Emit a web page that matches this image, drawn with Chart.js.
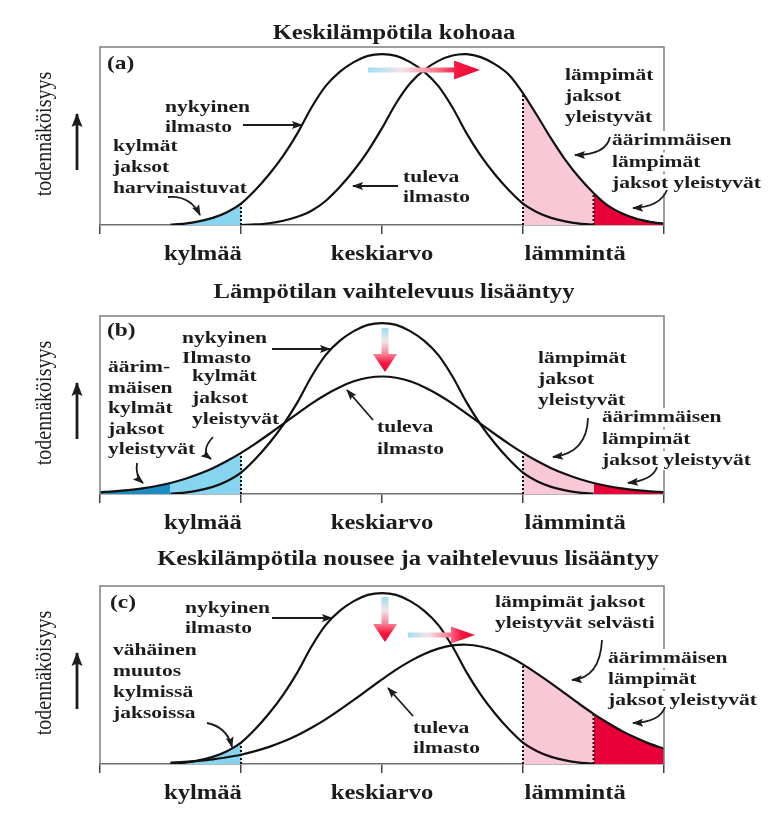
<!DOCTYPE html>
<html lang="fi">
<head>
    <meta charset="UTF-8">
    <title>Ilmaston muutos ja lämpötilan jakauma</title>
    <script src="https://cdn.jsdelivr.net/npm/chart.js"></script>
    <style>
        body {
            margin: 0;
            background: #fff;
        }
        #page {
            position: relative;
            width: 774px;
            height: 831px;
            overflow: hidden;
        }
        .panel {
            position: absolute;
            left: 0;
        }
    </style>
</head>
<body>
<div id="page">
    <div class="panel" style="top:0px"><canvas id="chartA" width="774" height="270"></canvas></div>
    <div class="panel" style="top:269px"><canvas id="chartB" width="774" height="270"></canvas></div>
    <div class="panel" style="top:539px"><canvas id="chartC" width="774" height="270"></canvas></div>
</div>

<script>
// temperature axis, -2 .. 2 (kylmää = -1, keskiarvo = 0, lämmintä = 1)
const xGrid = [-2, -1.9, -1.8, -1.7, -1.6, -1.5, -1.4, -1.3, -1.2, -1.1, -1,
    -0.9, -0.8, -0.7, -0.6, -0.5, -0.4, -0.3, -0.2, -0.1, 0,
    0.1, 0.2, 0.3, 0.4, 0.5, 0.6, 0.7, 0.8, 0.9, 1,
    1.1, 1.2, 1.3, 1.4, 1.5, 1.6, 1.7, 1.8, 1.9, 2];

// probability (1 = top of the frame)
const currentClimate = [null, null, null, null, null, 0.002, 0.008, 0.020, 0.040, 0.072, 0.120,
    0.195, 0.285, 0.390, 0.515, 0.660, 0.780, 0.860, 0.915, 0.950, 0.960,
    0.950, 0.915, 0.860, 0.780, 0.660, 0.515, 0.390, 0.285, 0.195, 0.120,
    0.072, 0.040, 0.020, 0.008, 0.002, null, null, null, null, null];

// (a) mean rises
const futureWarmer = [null, null, null, null, null, null, null, null, null, null, 0.000,
    0.003, 0.010, 0.024, 0.046, 0.080, 0.135, 0.213, 0.306, 0.415, 0.544,
    0.684, 0.796, 0.871, 0.922, 0.952, 0.960, 0.943, 0.904, 0.844, 0.740,
    0.615, 0.485, 0.366, 0.265, 0.180, 0.110, 0.066, 0.036, 0.018, 0.007];

// (b) variability grows
const futureWider = [0.010, 0.015, 0.022, 0.032, 0.045, 0.062, 0.084, 0.112, 0.145, 0.185, 0.231,
    0.282, 0.337, 0.394, 0.452, 0.508, 0.558, 0.600, 0.633, 0.653, 0.660,
    0.653, 0.633, 0.600, 0.558, 0.508, 0.452, 0.394, 0.337, 0.282, 0.231,
    0.185, 0.145, 0.112, 0.084, 0.062, 0.045, 0.032, 0.022, 0.015, 0.010];

// (c) both
const futureWarmerWider = [null, null, null, null, null, 0.008, 0.012, 0.018, 0.026, 0.038, 0.052,
    0.072, 0.096, 0.126, 0.162, 0.204, 0.251, 0.304, 0.360, 0.418, 0.475,
    0.530, 0.578, 0.618, 0.648, 0.666, 0.670, 0.660, 0.638, 0.604, 0.560,
    0.508, 0.453, 0.395, 0.337, 0.282, 0.232, 0.186, 0.147, 0.113, 0.086];

const coldBand = [-1.4, -1];
const extremeColdBand = [-2, -1.5];
const coldBandWide = [-1.5, -1];
const warmBand = [1, 1.5];
const extremeWarmBand = [1.5, 2];

const tickLabels = ['kylmää', 'keskiarvo', 'lämmintä'];
const axisTitle = 'todennäköisyys';
const panelTitles = [
    'Keskilämpötila kohoaa',
    'Lämpötilan vaihtelevuus lisääntyy',
    'Keskilämpötila nousee ja vaihtelevuus lisääntyy'
];

// ---- drawing helpers ----
const SX = 1.23;            // the original figure is stretched sideways
const INK = '#1c1c1c';
const LIGHT_BLUE = '#86d4f0';
const DARK_BLUE = '#1c8cc2';
const PINK = '#f9c8d6';
const RED = '#ea0039';
const labelAt = [-1.27, 0, 1.37];

function points(arr) {
    return xGrid.map((x, i) => ({ x: x, y: arr[i] }));
}

function valueAt(arr, x) {
    return arr[xGrid.indexOf(x)];
}

function bands(list) {
    return (context) => {
        const chart = context.chart;
        const a = chart.chartArea;
        if (!a) return 'rgba(0,0,0,0)';
        const xs = chart.scales.x;
        const w = a.right - a.left;
        const g = chart.ctx.createLinearGradient(a.left, 0, a.right, 0);
        const pos = v => Math.min(1, Math.max(0, (xs.getPixelForValue(v) - a.left) / w));
        list.forEach(([range, col]) => {
            const p0 = pos(range[0]), p1 = pos(range[1]);
            g.addColorStop(p0, 'rgba(255,255,255,0)');
            g.addColorStop(p0, col);
            g.addColorStop(p1, col);
            g.addColorStop(p1, 'rgba(255,255,255,0)');
        });
        return g;
    };
}

function curve(arr, fills) {
    return {
        data: points(arr),
        borderColor: '#111',
        borderWidth: 2.2,
        tension: 0.3,
        pointRadius: 0,
        fill: fills ? 'origin' : false,
        backgroundColor: fills ? bands(fills) : 'rgba(0,0,0,0)'
    };
}

function dotted(arr, x) {
    return {
        data: [{ x: x, y: 0 }, { x: x, y: valueAt(arr, x) }],
        borderColor: '#111',
        borderWidth: 2,
        borderDash: [2, 2],
        tension: 0,
        pointRadius: 0,
        fill: false
    };
}

function write(ctx, s, x, y, size, weight, align) {
    ctx.save();
    ctx.font = weight + ' ' + size + 'px "Liberation Serif"';
    ctx.fillStyle = INK;
    ctx.textAlign = align;
    ctx.textBaseline = 'alphabetic';
    ctx.translate(x, y);
    ctx.scale(SX, 1);
    ctx.fillText(s, 0, 0);
    ctx.restore();
}

function arrow(ctx, p, lw, hl, hw) {
    const n = p.length;
    const x1 = p[n - 2], y1 = p[n - 1];
    const fx = p[n - 4], fy = p[n - 3];
    ctx.save();
    ctx.strokeStyle = INK;
    ctx.fillStyle = INK;
    ctx.lineWidth = lw;
    ctx.beginPath();
    ctx.moveTo(p[0], p[1]);
    if (n === 6) ctx.quadraticCurveTo(p[2], p[3], x1, y1);
    else ctx.lineTo(x1, y1);
    ctx.stroke();
    const ang = Math.atan2(y1 - fy, x1 - fx);
    ctx.translate(x1, y1);
    ctx.rotate(ang);
    ctx.beginPath();
    ctx.moveTo(1, 0);
    ctx.lineTo(-hl, -hw);
    ctx.lineTo(-hl * 0.8, 0);
    ctx.lineTo(-hl, hw);
    ctx.closePath();
    ctx.fill();
    ctx.restore();
}

function redArrow(ctx, x0, y0, x1, y1, sw, hl, hw) {
    const L = Math.hypot(x1 - x0, y1 - y0);
    ctx.save();
    ctx.translate(x0, y0);
    ctx.rotate(Math.atan2(y1 - y0, x1 - x0));
    const g = ctx.createLinearGradient(0, 0, L, 0);
    g.addColorStop(0, '#9ddff2');
    g.addColorStop(0.3, '#f4e4e9');
    g.addColorStop(0.6, '#fb7d93');
    g.addColorStop(0.8, '#f5163f');
    g.addColorStop(1, '#ee0838');
    ctx.fillStyle = g;
    ctx.beginPath();
    ctx.moveTo(0, -sw / 2);
    ctx.lineTo(L - hl, -sw / 2);
    ctx.lineTo(L - hl, -hw);
    ctx.lineTo(L, 0);
    ctx.lineTo(L - hl, hw);
    ctx.lineTo(L - hl, sw / 2);
    ctx.lineTo(0, sw / 2);
    ctx.closePath();
    ctx.fill();
    ctx.restore();
}

// frame, texts and arrows; positions are px from the frame's top-left corner
function decor(spec) {
    return {
        id: 'decor',
        afterDraw(chart) {
            const ctx = chart.ctx;
            const a = chart.chartArea;
            const xs = chart.scales.x;
            const L = a.left, T = a.top;

            ctx.save();
            ctx.strokeStyle = '#7d7d7d';
            ctx.lineWidth = 1.5;
            ctx.beginPath();
            ctx.moveTo(L, a.bottom);
            ctx.lineTo(L, T);
            ctx.lineTo(a.right, T);
            ctx.lineTo(a.right, a.bottom);
            ctx.stroke();
            ctx.restore();

            // y axis title and its arrow
            ctx.save();
            ctx.translate(45, T + 87);
            ctx.rotate(-Math.PI / 2);
            ctx.scale(1, 1.15);
            ctx.font = '20px "Liberation Serif"';
            ctx.fillStyle = INK;
            ctx.textAlign = 'center';
            ctx.textBaseline = 'middle';
            ctx.fillText(axisTitle, 0, 0);
            ctx.restore();
            arrow(ctx, [77, T + 123, 77, T + 67], 2.8, 13, 5.5);

            write(ctx, spec.title, L + spec.titleAt[0], T + spec.titleAt[1], 20, 'bold', 'center');
            write(ctx, spec.tag, L + spec.tagAt[0], T + spec.tagAt[1], 19, 'bold', 'left');
            tickLabels.forEach((t, i) =>
                write(ctx, t, xs.getPixelForValue(labelAt[i]), a.bottom + 35, 20, 'bold', 'center'));

            spec.notes.forEach(n => {
                n.lines.forEach((s, i) => {
                    const x = L + n.x, y = T + n.y + i * n.lh;
                    if (n.bg) {
                        ctx.save();
                        ctx.font = 'bold 17.5px "Liberation Serif"';
                        const w = ctx.measureText(s).width * SX;
                        ctx.fillStyle = '#fff';
                        ctx.fillRect(x - 2, y - 14, w + 4, 19);
                        ctx.restore();
                    }
                    write(ctx, s, x, y, 17.5, 'bold', 'left');
                });
            });

            spec.arrows.forEach(p => arrow(ctx, p.map((v, i) => v + (i % 2 ? T : L)), 1.8, 10, 4));
            spec.red.forEach(r => redArrow(ctx, L + r[0], T + r[1], L + r[2], T + r[3], r[4], r[5], r[6]));
        }
    };
}

function makeChart(id, datasets, spec) {
    return new Chart(document.getElementById(id), {
        type: 'line',
        data: { datasets: datasets },
        options: {
            responsive: false,
            animation: false,
            devicePixelRatio: 1,
            layout: { padding: { left: 100, right: 110, top: 47, bottom: 0 } },
            plugins: {
                legend: { display: false },
                tooltip: { enabled: false },
                filler: { drawTime: 'beforeDatasetsDraw' }
            },
            scales: {
                x: {
                    type: 'linear',
                    min: -2,
                    max: 2,
                    afterFit: (scale) => { scale.height = 45; },
                    ticks: { stepSize: 1, display: false },
                    grid: { drawOnChartArea: false, drawTicks: true, tickLength: 9, color: '#444', lineWidth: 1.5 },
                    border: { color: '#6f6f6f', width: 1.5 }
                },
                y: { min: 0, max: 1, display: false }
            }
        },
        plugins: [decor(spec)]
    });
}

// (a)
makeChart('chartA', [
    curve(currentClimate, [[coldBand, LIGHT_BLUE]]),
    curve(futureWarmer, [[warmBand, PINK], [extremeWarmBand, RED]]),
    dotted(currentClimate, -1),
    dotted(futureWarmer, 1),
    dotted(futureWarmer, 1.5)
], {
    title: panelTitles[0], titleAt: [294, -8],
    tag: '(a)', tagAt: [7, 22],
    notes: [
        { lines: ['nykyinen', 'ilmasto'], x: 65, y: 65, lh: 20 },
        { lines: ['kylmät', 'jaksot', 'harvinaistuvat'], x: 13, y: 104, lh: 21 },
        { lines: ['tuleva', 'ilmasto'], x: 303, y: 135, lh: 20 },
        { lines: ['lämpimät', 'jaksot', 'yleistyvät'], x: 465, y: 33, lh: 21 },
        { lines: ['äärimmäisen', 'lämpimät', 'jaksot yleistyvät'], x: 512, y: 98, lh: 21.5, bg: true }
    ],
    arrows: [
        [143, 78, 202, 78],
        [68, 150, 90, 148, 100, 168],
        [298, 139, 253, 139],
        [510, 90, 506, 108, 475, 108],
        [567, 143, 560, 160, 533, 161]
    ],
    red: [[268, 23, 380, 23, 5, 26, 9.5]]
});

// (b)
makeChart('chartB', [
    curve(currentClimate, null),
    curve(futureWider, [[extremeColdBand, DARK_BLUE], [coldBandWide, LIGHT_BLUE], [warmBand, PINK], [extremeWarmBand, RED]]),
    dotted(futureWider, -1),
    dotted(futureWider, 1)
], {
    title: panelTitles[1], titleAt: [294, -18],
    tag: '(b)', tagAt: [7, 20],
    notes: [
        { lines: ['nykyinen', 'Ilmasto'], x: 82, y: 27, lh: 20 },
        { lines: ['kylmät', 'jaksot', 'yleistyvät'], x: 92, y: 65, lh: 21.5 },
        { lines: ['äärim-', 'mäisen', 'kylmät', 'jaksot', 'yleistyvät'], x: 8, y: 56, lh: 20.5 },
        { lines: ['tuleva', 'ilmasto'], x: 277, y: 116, lh: 22 },
        { lines: ['lämpimät', 'jaksot', 'yleistyvät'], x: 438, y: 47, lh: 21 },
        { lines: ['äärimmäisen', 'lämpimät', 'jaksot yleistyvät'], x: 502, y: 106, lh: 21.5, bg: true }
    ],
    arrows: [
        [172, 33, 230, 33],
        [37, 147, 35, 160, 43, 167],
        [113, 121, 100, 135, 111, 143],
        [273, 104, 247, 74],
        [488, 102, 487, 137, 453, 141],
        [557, 151, 553, 164, 528, 167]
    ],
    red: [[285, 12, 285, 56, 7, 18, 12]]
});

// (c)
makeChart('chartC', [
    curve(currentClimate, [[coldBand, LIGHT_BLUE]]),
    curve(futureWarmerWider, [[warmBand, PINK], [extremeWarmBand, RED]]),
    dotted(currentClimate, -1),
    dotted(futureWarmerWider, 1),
    dotted(futureWarmerWider, 1.5)
], {
    title: panelTitles[2], titleAt: [308, -21],
    tag: '(c)', tagAt: [10, 22],
    notes: [
        { lines: ['nykyinen', 'ilmasto'], x: 85, y: 27, lh: 20 },
        { lines: ['vähäinen', 'muutos', 'kylmissä', 'jaksoissa'], x: 13, y: 69, lh: 21 },
        { lines: ['tuleva', 'ilmasto'], x: 313, y: 147, lh: 20 },
        { lines: ['lämpimät jaksot', 'yleistyvät selvästi'], x: 395, y: 21, lh: 21 },
        { lines: ['äärimmäisen', 'lämpimät', 'jaksot yleistyvät'], x: 508, y: 77, lh: 21, bg: true }
    ],
    arrows: [
        [172, 32, 232, 32],
        [107, 137, 127, 141, 132, 161],
        [313, 130, 288, 102],
        [502, 54, 500, 92, 472, 94],
        [565, 121, 560, 136, 533, 137]
    ],
    red: [[285, 11, 285, 56, 7, 18, 12], [308, 49, 375, 49, 5, 24, 8.5]]
});
</script>
</body>
</html>
